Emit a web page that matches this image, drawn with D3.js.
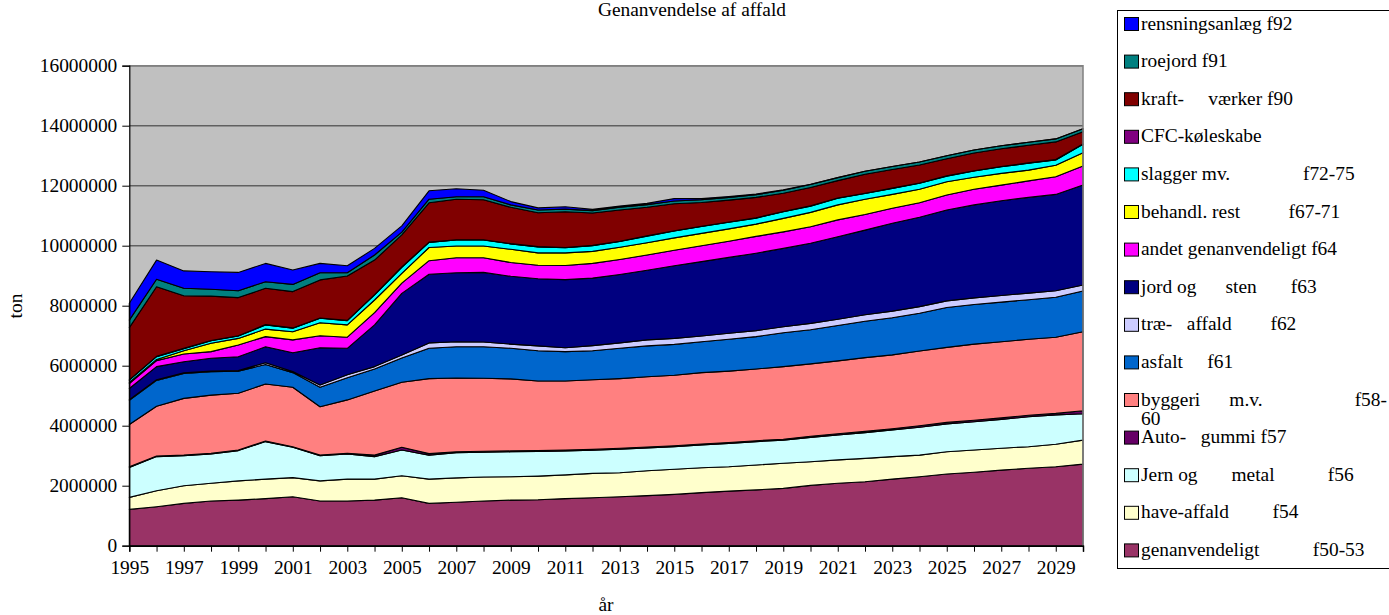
<!DOCTYPE html>
<html><head><meta charset="utf-8">
<script src="https://cdn.jsdelivr.net/npm/d3@7"></script>
<style>
body{margin:0;background:#fff;overflow:hidden}
text{font-family:"Liberation Serif","Times New Roman",serif;fill:#000}
</style>
</head><body>
<svg id="chart" width="1389" height="615"></svg>
<script>
// ---------------- DATA (tonnes) ----------------
const years = [1995,1996,1997,1998,1999,2000,2001,2002,2003,2004,2005,2006,2007,2008,2009,2010,2011,2012,
  2013,2014,2015,2016,2017,2018,2019,2020,2021,2022,2023,2024,2025,2026,2027,2028,2029,2030];

const genanvendeligt = [1.21e6,1.30e6,1.41e6,1.49e6,1.52e6,1.57e6,1.63e6,1.49e6,1.49e6,1.52e6,
  1.60e6,1.41e6,1.45e6,1.49e6,1.52e6,1.53e6,1.57e6,1.60e6,1.63e6,1.67e6,
  1.71e6,1.77e6,1.82e6,1.86e6,1.91e6,2.01e6,2.08e6,2.13e6,2.22e6,2.30e6,
  2.39e6,2.45e6,2.52e6,2.58e6,2.63e6,2.72e6];
const haveAffald = [0.40e6,0.53e6,0.59e6,0.59e6,0.64e6,0.65e6,0.64e6,0.67e6,0.73e6,0.70e6,
  0.73e6,0.81e6,0.81e6,0.80e6,0.78e6,0.79e6,0.79e6,0.81e6,0.80e6,0.83e6,
  0.84e6,0.83e6,0.81e6,0.83e6,0.84e6,0.79e6,0.78e6,0.78e6,0.75e6,0.72e6,
  0.74e6,0.74e6,0.73e6,0.72e6,0.75e6,0.80e6];
const jernMetal = [1.00e6,1.14e6,1.00e6,0.98e6,1.01e6,1.25e6,1.01e6,0.84e6,0.84e6,0.75e6,
  0.86e6,0.80e6,0.84e6,0.83e6,0.83e6,0.82e6,0.80e6,0.77e6,0.79e6,0.76e6,
  0.75e6,0.76e6,0.78e6,0.78e6,0.77e6,0.81e6,0.83e6,0.86e6,0.89e6,0.93e6,
  0.93e6,0.94e6,0.96e6,1.00e6,0.98e6,0.88e6];
const autoGummi = [0.02e6,0.02e6,0.02e6,0.02e6,0.02e6,0.02e6,0.02e6,0.02e6,0.02e6,0.05e6,
  0.09e6,0.05e6,0.03e6,0.03e6,0.03e6,0.03e6,0.03e6,0.03e6,0.03e6,0.03e6,
  0.03e6,0.03e6,0.03e6,0.03e6,0.03e6,0.04e6,0.04e6,0.04e6,0.04e6,0.05e6,
  0.05e6,0.05e6,0.05e6,0.05e6,0.05e6,0.10e6];
const byggeri = [1.41e6,1.66e6,1.89e6,1.94e6,1.89e6,1.90e6,1.98e6,1.61e6,1.78e6,2.14e6,
  2.17e6,2.50e6,2.46e6,2.43e6,2.40e6,2.32e6,2.30e6,2.32e6,2.32e6,2.34e6,
  2.35e6,2.38e6,2.38e6,2.39e6,2.42e6,2.41e6,2.43e6,2.46e6,2.46e6,2.49e6,
  2.50e6,2.54e6,2.54e6,2.53e6,2.54e6,2.63e6];
const asfalt = [0.81e6,0.86e6,0.83e6,0.78e6,0.74e6,0.65e6,0.49e6,0.65e6,0.74e6,0.73e6,
  0.81e6,1.01e6,1.04e6,1.05e6,1.02e6,1.01e6,0.98e6,0.97e6,1.01e6,1.03e6,
  1.03e6,1.03e6,1.06e6,1.08e6,1.13e6,1.14e6,1.18e6,1.21e6,1.24e6,1.26e6,
  1.33e6,1.32e6,1.32e6,1.32e6,1.33e6,1.36e6];
const traeAffald = [0.02e6,0.02e6,0.02e6,0.02e6,0.02e6,0.06e6,0.04e6,0.08e6,0.10e6,0.08e6,
  0.10e6,0.18e6,0.17e6,0.16e6,0.14e6,0.16e6,0.13e6,0.17e6,0.18e6,0.20e6,
  0.20e6,0.19e6,0.20e6,0.20e6,0.20e6,0.21e6,0.21e6,0.22e6,0.22e6,0.22e6,
  0.22e6,0.22e6,0.22e6,0.22e6,0.22e6,0.20e6];
const jordSten = [0.37e6,0.44e6,0.37e6,0.43e6,0.46e6,0.53e6,0.62e6,1.24e6,0.88e6,1.39e6,
  2.05e6,2.29e6,2.30e6,2.32e6,2.26e6,2.24e6,2.27e6,2.25e6,2.28e6,2.32e6,
  2.42e6,2.48e6,2.53e6,2.58e6,2.61e6,2.67e6,2.75e6,2.82e6,2.93e6,2.98e6,
  3.03e6,3.10e6,3.16e6,3.19e6,3.21e6,3.33e6];
const andetGenanv = [0.16e6,0.20e6,0.26e6,0.22e6,0.39e6,0.34e6,0.43e6,0.40e6,0.37e6,0.41e6,
  0.34e6,0.45e6,0.50e6,0.49e6,0.46e6,0.45e6,0.47e6,0.49e6,0.50e6,0.51e6,
  0.52e6,0.53e6,0.54e6,0.56e6,0.55e6,0.55e6,0.56e6,0.52e6,0.50e6,0.48e6,
  0.50e6,0.52e6,0.52e6,0.55e6,0.59e6,0.64e6];
const behandlRest = [0.04e6,0.04e6,0.11e6,0.28e6,0.22e6,0.25e6,0.27e6,0.43e6,0.41e6,0.42e6,
  0.33e6,0.44e6,0.39e6,0.39e6,0.44e6,0.41e6,0.42e6,0.40e6,0.41e6,0.41e6,
  0.41e6,0.41e6,0.41e6,0.41e6,0.45e6,0.48e6,0.50e6,0.51e6,0.46e6,0.45e6,
  0.44e6,0.40e6,0.39e6,0.36e6,0.38e6,0.44e6];
const slagger = [0.08e6,0.09e6,0.07e6,0.08e6,0.08e6,0.14e6,0.12e6,0.15e6,0.14e6,0.17e6,
  0.20e6,0.17e6,0.20e6,0.20e6,0.18e6,0.20e6,0.17e6,0.19e6,0.19e6,0.22e6,
  0.23e6,0.23e6,0.22e6,0.20e6,0.22e6,0.21e6,0.22e6,0.19e6,0.20e6,0.20e6,
  0.19e6,0.21e6,0.22e6,0.23e6,0.18e6,0.28e6];
const cfc = [0.01e6,0.01e6,0.01e6,0.01e6,0.01e6,0.01e6,0.01e6,0.01e6,0.01e6,0.01e6,
  0.01e6,0.01e6,0.01e6,0.01e6,0.01e6,0.01e6,0.01e6,0.01e6,0.01e6,0.01e6,
  0.01e6,0.01e6,0.01e6,0.01e6,0.01e6,0.01e6,0.01e6,0.01e6,0.01e6,0.01e6,
  0.01e6,0.01e6,0.01e6,0.01e6,0.01e6,0.01e6];
const kraftvaerker = [1.74e6,2.32e6,1.75e6,1.48e6,1.27e6,1.21e6,1.21e6,1.27e6,1.48e6,1.15e6,
  1.07e6,1.31e6,1.35e6,1.33e6,1.21e6,1.13e6,1.19e6,1.08e6,1.04e6,0.95e6,
  0.90e6,0.79e6,0.73e6,0.68e6,0.61e6,0.61e6,0.58e6,0.63e6,0.62e6,0.60e6,
  0.57e6,0.59e6,0.59e6,0.59e6,0.59e6,0.41e6];
const roejord = [0.25e6,0.25e6,0.25e6,0.23e6,0.23e6,0.22e6,0.24e6,0.24e6,0.11e6,0.17e6,
  0.09e6,0.12e6,0.08e6,0.10e6,0.08e6,0.09e6,0.09e6,0.08e6,0.09e6,0.09e6,
  0.09e6,0.09e6,0.09e6,0.09e6,0.10e6,0.10e6,0.10e6,0.10e6,0.10e6,0.10e6,
  0.10e6,0.10e6,0.10e6,0.10e6,0.10e6,0.10e6];
const rensningsanlaeg = [0.56e6,0.64e6,0.58e6,0.58e6,0.61e6,0.61e6,0.48e6,0.31e6,0.23e6,0.22e6,
  0.21e6,0.28e6,0.27e6,0.22e6,0.11e6,0.07e6,0.08e6,0.04e6,0.04e6,0.04e6,
  0.08e6,0.04e6,0.03e6,0.02e6,0.01e6,0.01e6,0,0,0,0,
  0,0,0,0,0,0];

// series, bottom of the stack first
const seriesNames = [
  "genanvendeligt           f50-53",
  "have-affald         f54",
  "Jern og       metal           f56",
  "Auto-   gummi f57",
  "byggeri      m.v.                   f58-60",
  "asfalt     f61",
  "træ-   affald        f62",
  "jord og      sten       f63",
  "andet genanvendeligt f64",
  "behandl. rest          f67-71",
  "slagger mv.               f72-75",
  "CFC-køleskabe",
  "kraft-     værker f90",
  "roejord f91",
  "rensningsanlæg f92"
];
const seriesValues = [genanvendeligt, haveAffald, jernMetal, autoGummi, byggeri, asfalt, traeAffald,
  jordSten, andetGenanv, behandlRest, slagger, cfc, kraftvaerker, roejord, rensningsanlaeg];
const seriesColors = ["#993366","#FFFFCC","#CCFFFF","#660066","#FF8080","#0066CC","#CCCCFF",
  "#000080","#FF00FF","#FFFF00","#00FFFF","#800080","#800000","#008080","#0000FF"];

const yTicks = [0,2000000,4000000,6000000,8000000,10000000,12000000,14000000,16000000];
const xLabelYears = [1995,1997,1999,2001,2003,2005,2007,2009,2011,2013,2015,2017,2019,2021,2023,2025,2027,2029];

const titleText = "Genanvendelse af affald";
const xTitle = "år";
const yTitle = "ton";

// ---------------- CHART ----------------
const svg = d3.select("#chart");
const FS = 19.4;
const L = 129.3, R = 1083, T = 65.7, B = 545.7;

const x = d3.scaleLinear().domain([years[0], years[years.length-1]]).range([L, R]);
const y = d3.scaleLinear().domain([0, 16000000]).range([B, T]);

// table for stacking
const keys = seriesNames.map((_, i) => "s" + i);
const table = years.map((yr, j) => {
  const row = {year: yr};
  seriesValues.forEach((arr, i) => row["s" + i] = arr[j]);
  return row;
});
const stacked = d3.stack().keys(keys)(table);

// plot background
svg.append("rect").attr("x", L).attr("y", T).attr("width", R - L).attr("height", B - T)
  .attr("fill", "#C0C0C0");

// gridlines
svg.append("g").selectAll("line").data(yTicks.filter(v => v > 0)).join("line")
  .attr("x1", L).attr("x2", R)
  .attr("y1", d => y(d)).attr("y2", d => y(d))
  .attr("stroke", "#606060").attr("stroke-width", 1.5);

// areas
const area = d3.area()
  .x(d => x(d.data.year))
  .y0(d => y(d[0]))
  .y1(d => y(d[1]));

svg.append("g").selectAll("path").data(stacked).join("path")
  .attr("d", area)
  .attr("fill", (d, i) => seriesColors[i])
  .attr("stroke", "#000")
  .attr("stroke-width", 1.1)
  .attr("stroke-linejoin", "round");

// plot frame (top/right gray)
svg.append("path")
  .attr("d", `M${L},${T}H${R}V${B}`)
  .attr("fill", "none").attr("stroke", "#808080").attr("stroke-width", 1.5);

// y axis
const yAxis = d3.axisLeft(y).tickValues(yTicks).tickSize(7).tickPadding(5)
  .tickFormat(d3.format("d"));
const gy = svg.append("g").attr("transform", `translate(${L},0)`).call(yAxis);
gy.select(".domain").attr("stroke", "#000").attr("stroke-width", 1.2);
gy.selectAll(".tick line").attr("stroke", "#000");
gy.selectAll(".tick text").attr("font-size", FS).attr("font-family", "Liberation Serif")
  .attr("fill", "#000");

// x axis
const xAxis = d3.axisBottom(x).tickValues(years).tickSize(6).tickPadding(9)
  .tickFormat(d => xLabelYears.includes(d) ? String(d) : "");
const gx = svg.append("g").attr("transform", `translate(0,${B})`).call(xAxis);
gx.select(".domain").attr("stroke", "#000").attr("stroke-width", 1.5);
gx.selectAll(".tick line").attr("stroke", "#000");
gx.selectAll(".tick text").attr("font-size", FS).attr("font-family", "Liberation Serif")
  .attr("fill", "#000");
gy.raise();

// titles
svg.append("text").attr("x", 692).attr("y", 16).attr("text-anchor", "middle")
  .attr("font-size", FS).text(titleText);
svg.append("text").attr("x", 606).attr("y", 611).attr("text-anchor", "middle")
  .attr("font-size", FS).text(xTitle);
svg.append("text").attr("transform", "translate(22,306) rotate(-90)").attr("text-anchor", "middle")
  .attr("font-size", FS).text(yTitle);

// legend
const LX = 1117.5, LT = 10.5, LB = 568.5;
svg.append("rect").attr("x", LX).attr("y", LT).attr("width", 300).attr("height", LB - LT)
  .attr("fill", "#fff").attr("stroke", "#000").attr("stroke-width", 1);

const order = d3.range(seriesNames.length).reverse(); // top series first
const lg = svg.append("g");
const rowStep = 37.6, firstRow = 24;
const maxW = 250;
order.forEach((si, k) => {
  const cy = firstRow + k * rowStep;
  lg.append("rect").attr("x", 1124.5).attr("y", cy - 6.5).attr("width", 14).attr("height", 13)
    .attr("fill", seriesColors[si]).attr("stroke", "#000").attr("stroke-width", 1);
  const t = lg.append("text").attr("x", 1141).attr("y", cy + 5.5)
    .attr("font-size", FS).attr("xml:space", "preserve").style("white-space", "pre")
    .text(seriesNames[si]);
  if (t.node().getComputedTextLength() > maxW) {
    const s = seriesNames[si];
    const cut = s.lastIndexOf("-") + 1;
    t.text(s.slice(0, cut));
    lg.append("text").attr("x", 1141).attr("y", cy + 5.5 + 19)
      .attr("font-size", FS).text(s.slice(cut));
  }
});
</script>
</body></html>
